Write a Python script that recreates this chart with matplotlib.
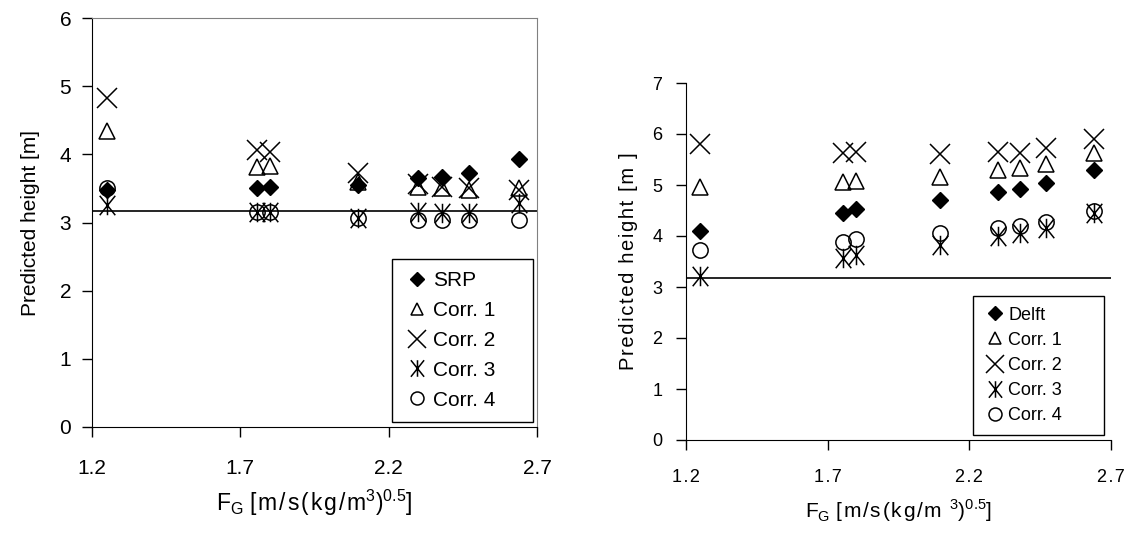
import numpy as np
import matplotlib
matplotlib.use("Agg")
import matplotlib.pyplot as plt
from matplotlib.path import Path

plt.rcParams['font.family'] = ['Liberation Sans', 'DejaVu Sans']

# gas load factor, shared by both panels
fg = [1.25, 1.755, 1.80, 2.095, 2.30, 2.38, 2.47, 2.64]

# left panel (SRP packing)
srp = [3.48, 3.50, 3.52, 3.55, 3.65, 3.67, 3.73, 3.93]
srp_c1 = [4.34, 3.82, 3.83, 3.60, 3.52, 3.50, 3.47, 3.50]
srp_c2 = [4.82, 4.07, 4.04, 3.72, 3.57, 3.52, 3.50, 3.47]
srp_c3 = [3.25, 3.15, 3.15, 3.06, 3.16, 3.14, 3.14, 3.28]
srp_c4 = [3.50, 3.16, 3.16, 3.06, 3.04, 3.03, 3.03, 3.04]

# right panel (Delft packing)
delft = [4.10, 4.46, 4.52, 4.71, 4.87, 4.93, 5.03, 5.30]
delft_c1 = [4.97, 5.05, 5.08, 5.16, 5.29, 5.33, 5.42, 5.62]
delft_c2 = [5.80, 5.62, 5.65, 5.60, 5.65, 5.63, 5.72, 5.90]
delft_c3 = [3.22, 3.56, 3.63, 3.82, 4.00, 4.05, 4.15, 4.45]
delft_c4 = [3.72, 3.89, 3.95, 4.05, 4.15, 4.20, 4.28, 4.50]

actual_height = 3.17
xticks = [1.2, 1.7, 2.2, 2.7]

HS = '\u200a'  # hair space, mimics the loose letter spacing of the right panel


def spaced(s, sp=HS):
    return sp.join(s)


# Excel-like asterisk: an X with a vertical bar through it
star = Path([(-0.8, -1), (0.8, 1), (-0.8, 1), (0.8, -1), (0, -1), (0, 1)],
            [Path.MOVETO, Path.LINETO, Path.MOVETO, Path.LINETO,
             Path.MOVETO, Path.LINETO])

fig = plt.figure(figsize=(11.33, 5.35), dpi=100)
ax1 = fig.add_axes([92/1133, 108/535, 445/1133, 409/535])
ax2 = fig.add_axes([686/1133, 95/535, 425/1133, 357/535])


def draw(ax, series, names, fs, leg_fs, leg_box, labelspacing, tick_fmt):
    styles = [
        dict(marker='D', ms=8, mfc='black', mec='black'),
        dict(marker='^', ms=11, mfc='none', mec='black', mew=1.1),
        dict(marker='x', ms=15, mfc='none', mec='black', mew=1.1),
        dict(marker=star, ms=14, mfc='none', mec='black', mew=1.1),
        dict(marker='o', ms=11, mfc='none', mec='black', mew=1.1),
    ]
    for vals, name, st in zip(series, names, styles):
        ax.plot(fg, vals, linestyle='none', label=name, **st)
    ax.axhline(actual_height, color='black', lw=1.2)
    ax.set_xlim(1.2, 2.7)
    ax.set_xticks(xticks)
    ax.set_xticklabels([tick_fmt(f'{t:.1f}') for t in xticks])
    ax.tick_params(axis='both', direction='out', length=7, width=1,
                   labelsize=fs)
    leg = ax.legend(loc='lower left', bbox_to_anchor=leg_box, mode='expand',
                    borderaxespad=0, fontsize=leg_fs, markerscale=0.85,
                    handlelength=1.2, handletextpad=0.15, borderpad=0.6,
                    labelspacing=labelspacing, fancybox=False, framealpha=1,
                    edgecolor='black')
    leg.get_frame().set_linewidth(1.0)
    return leg


# left panel
draw(ax1, [srp, srp_c1, srp_c2, srp_c3, srp_c4],
     ['SRP', 'Corr. 1', 'Corr. 2', 'Corr. 3', 'Corr. 4'],
     15, 15, (0.674, 0.012, 0.317, 0.40), 0.52, lambda s: s)
ax1.set_ylim(0, 6)
ax1.set_yticks(range(0, 7))
ax1.tick_params(axis='x', pad=16)
ax1.tick_params(axis='y', pad=8)
ax1.set_ylabel('Predicted height [m]', fontsize=15, labelpad=14)
ax1.set_xlabel(r'F$_\mathregular{G}$ ' + spaced('[m/s(kg/m') +
               r'$^\mathregular{3}$)$^\mathregular{0.5}$]',
               fontsize=16.5, labelpad=7)
for s in ['top', 'right']:
    ax1.spines[s].set_color('#808080')

# right panel
draw(ax2, [delft, delft_c1, delft_c2, delft_c3, delft_c4],
     ['Delft', 'Corr. 1', 'Corr. 2', 'Corr. 3', 'Corr. 4'],
     13, 13, (0.675, 0.014, 0.308, 0.40), 0.45, spaced)
ax2.set_ylim(0, 7)
ax2.set_yticks(range(0, 8))
ax2.tick_params(axis='x', pad=14)
ax2.tick_params(axis='y', pad=10)
ax2.set_ylabel(spaced('Predicted height [m ]'), fontsize=14.5, labelpad=10)
ax2.set_xlabel(r'F$_\mathregular{G}$ ' + spaced('[m/s(kg/m ') +
               r'$^\mathregular{3}$)$^\mathregular{0.5}$]',
               fontsize=15, labelpad=8)
for s in ['top', 'right']:
    ax2.spines[s].set_visible(False)

fig.savefig('out.png', dpi=100)
